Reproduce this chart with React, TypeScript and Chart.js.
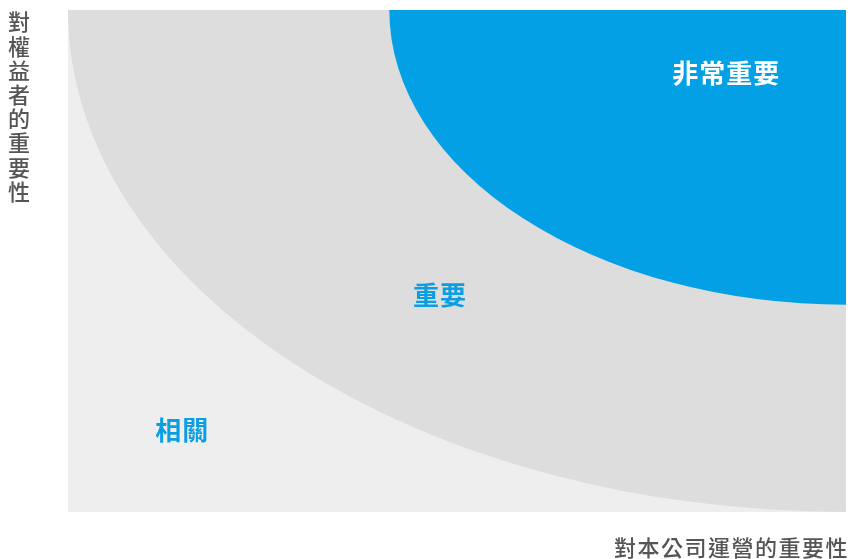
import React, { useEffect, useRef } from "react";
import { Chart, registerables } from "chart.js";

Chart.register(...registerables);

// Zones: quarter ellipses anchored at the top-right corner (max x, max y)
const zoneNames = ["重要", "非常重要"];
const zoneRadius = [10, 5.87];
const zoneColors = ["#dddddd", "#03a0e6"];
const backgroundColor = "#eeeeee";

// Zone labels
const labelTexts = ["非常重要", "重要", "相關"];
const labelX = [8.46, 4.78, 1.47];
const labelY = [8.75, 4.33, 1.64];
const labelColors = ["#ffffff", "#0a9fe3", "#0a9fe3"];

const xTitle = "對本公司運營的重要性";
const yTitle = "對權益者的重要性";

const AXIS_MIN = 0;
const AXIS_MAX = 10;

const FONT = '"Noto Sans CJK TC", "Noto Sans CJK SC", sans-serif';

const zonesPlugin = {
  id: "zones",
  beforeDatasetsDraw(chart: any) {
    const { ctx, chartArea, scales } = chart;
    const xs = scales.x;
    const ys = scales.y;
    ctx.save();
    ctx.beginPath();
    ctx.rect(chartArea.left, chartArea.top, chartArea.width, chartArea.height);
    ctx.clip();
    ctx.fillStyle = backgroundColor;
    ctx.fillRect(chartArea.left, chartArea.top, chartArea.width, chartArea.height);
    const cx = xs.getPixelForValue(AXIS_MAX);
    const cy = ys.getPixelForValue(AXIS_MAX);
    zoneRadius.forEach((r, i) => {
      const rx = Math.abs(cx - xs.getPixelForValue(AXIS_MAX - r));
      const ry = Math.abs(ys.getPixelForValue(AXIS_MAX - r) - cy);
      ctx.beginPath();
      ctx.ellipse(cx, cy, rx, ry, 0, 0, Math.PI * 2);
      ctx.fillStyle = zoneColors[i];
      ctx.fill();
    });
    ctx.restore();
  },
  afterDatasetsDraw(chart: any) {
    const { ctx, scales } = chart;
    ctx.save();
    ctx.textAlign = "center";
    ctx.textBaseline = "middle";
    (ctx as any).letterSpacing = "1px";
    labelTexts.forEach((t, i) => {
      ctx.font = `bold 26px ${FONT}`;
      ctx.fillStyle = labelColors[i];
      ctx.fillText(t, scales.x.getPixelForValue(labelX[i]), scales.y.getPixelForValue(labelY[i]));
    });
    // axis titles
    (ctx as any).letterSpacing = "0px";
    ctx.font = `500 22px ${FONT}`;
    ctx.fillStyle = "#555555";
    const chars = Array.from(yTitle);
    chars.forEach((c, i) => {
      ctx.fillText(c, 19, 22 + i * 24.2);
    });
    ctx.textAlign = "right";
    (ctx as any).letterSpacing = "1.5px";
    ctx.fillText(xTitle, 849, 548);
    ctx.restore();
  },
};

export default function App() {
  const ref = useRef<HTMLCanvasElement | null>(null);
  useEffect(() => {
    document.body.style.margin = "0";
    if (!ref.current) return;
    const chart = new Chart(ref.current, {
      type: "scatter",
      data: {
        datasets: [
          {
            label: "zones",
            data: labelX.map((x, i) => ({ x, y: labelY[i] })),
            pointRadius: 0,
            pointHoverRadius: 0,
          },
        ],
      },
      options: {
        animation: false,
        responsive: true,
        maintainAspectRatio: false,
        layout: { padding: { left: 68, top: 10, right: 5, bottom: 47 } },
        plugins: { legend: { display: false }, tooltip: { enabled: false } },
        events: [],
        scales: {
          x: { type: "linear", min: AXIS_MIN, max: AXIS_MAX, display: false },
          y: { type: "linear", min: AXIS_MIN, max: AXIS_MAX, display: false },
        },
      },
      plugins: [zonesPlugin],
    });
    return () => chart.destroy();
  }, []);
  return (
    <div style={{ width: 851, height: 559, position: "relative" }}>
      <canvas ref={ref} />
    </div>
  );
}
